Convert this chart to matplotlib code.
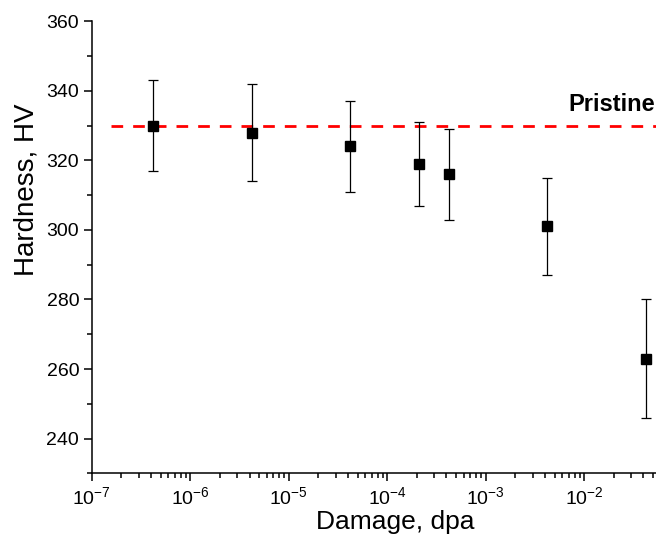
import matplotlib
matplotlib.use("Agg")
import matplotlib.pyplot as plt
from matplotlib.ticker import LogLocator, MultipleLocator, NullFormatter

plt.rcParams['font.family'] = ['Liberation Sans', 'DejaVu Sans']
plt.rcParams['mathtext.default'] = 'regular'

# dosis de daño (dpa) y dureza Vickers medida
dano = [4.2e-7, 4.2e-6, 4.2e-5, 2.1e-4, 4.2e-4, 4.2e-3, 4.2e-2]
dureza = [330, 328, 324, 319, 316, 301, 263]
error = [13, 14, 13, 12, 13, 14, 17]
pristino = 330

fig = plt.figure(figsize=(6.56, 5.41), dpi=100)
ax = fig.add_axes([0.1398, 0.1251, 0.8602, 0.8355])

ax.plot([1.57e-7, 1], [pristino, pristino], color='red', lw=2,
        linestyle=(0, (4.2, 3.6)), zorder=1)
ax.errorbar(dano, dureza, yerr=error, fmt='s', color='black', ms=7.2,
            ecolor='black', elinewidth=0.9, capsize=3.4, capthick=0.9, zorder=3)
ax.text(0.0528, 336, "Pristine", fontsize=17, fontweight='bold',
        ha='right', va='center')

ax.set_xscale('log')
ax.set_xlim(1e-7, 0.0536)
ax.set_ylim(230, 360)
ax.yaxis.set_major_locator(MultipleLocator(20))
ax.yaxis.set_minor_locator(MultipleLocator(10))
ax.xaxis.set_major_locator(LogLocator(base=10, numticks=20))
ax.xaxis.set_minor_locator(LogLocator(base=10, subs=range(2, 10), numticks=20))
ax.xaxis.set_minor_formatter(NullFormatter())

ax.spines['top'].set_visible(False)
ax.spines['right'].set_visible(False)
for s in ['left', 'bottom']:
    ax.spines[s].set_linewidth(1.1)
ax.tick_params(which='major', direction='out', length=6, width=1.1, labelsize=14, pad=3)
ax.tick_params(which='minor', direction='out', length=3.3, width=1.1)

# títulos de ejes colocados a mano, como en el original
ax.set_xlabel("Damage, dpa", fontsize=19)
ax.set_ylabel("Hardness, HV", fontsize=20)
ax.xaxis.set_label_coords((395 - 91.7) / (656 - 91.7), -0.082)
ax.yaxis.set_label_coords(-0.092, (473.3 - 190) / (473.3 - 21.3))

plt.savefig("out.png", dpi=100)
